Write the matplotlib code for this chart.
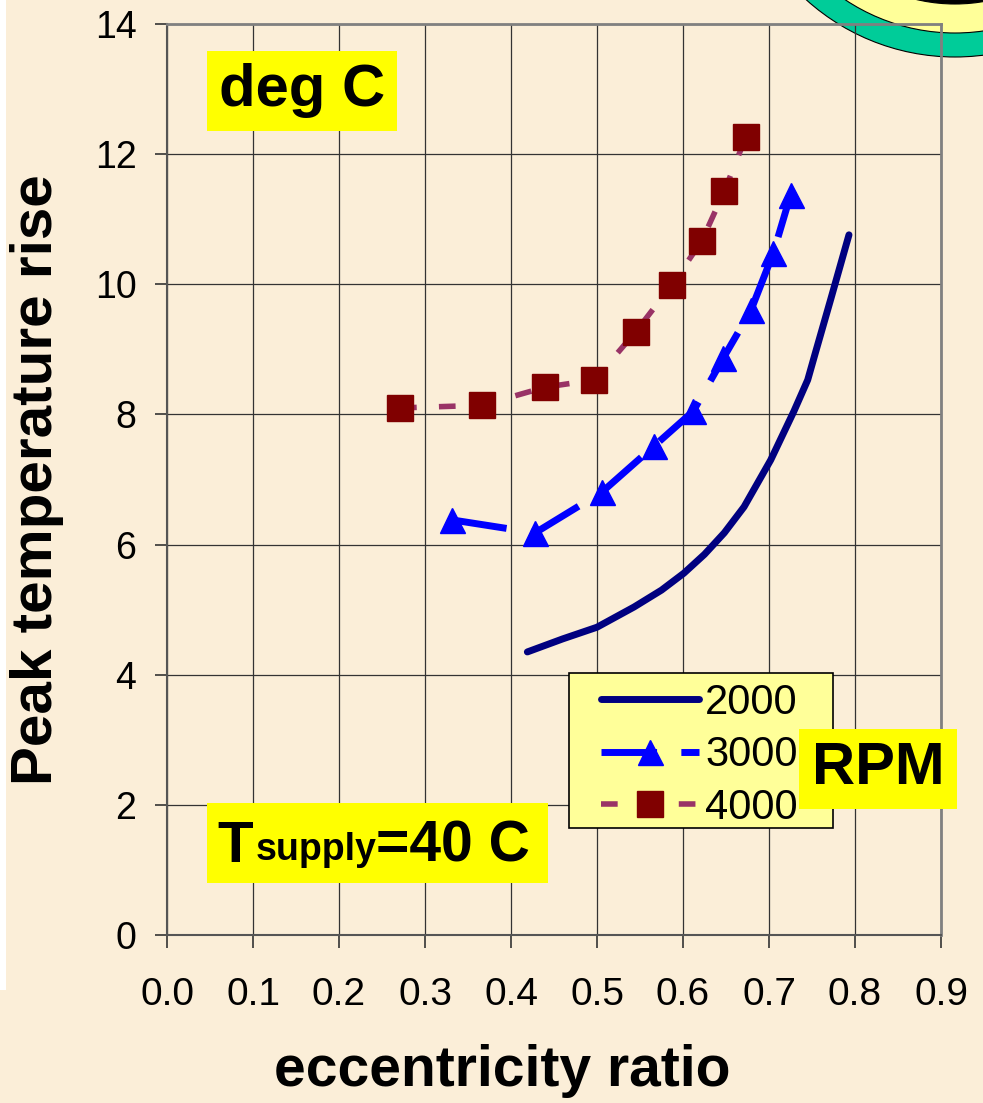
import matplotlib
matplotlib.use("Agg")
import matplotlib.pyplot as plt
from matplotlib.patches import Rectangle, Circle
from matplotlib.transforms import Affine2D

# data
ecc_2000 = [0.419, 0.46, 0.50, 0.543, 0.575, 0.601, 0.625, 0.648, 0.671,
            0.702, 0.729, 0.745, 0.754, 0.772, 0.793]
temp_2000 = [4.35, 4.55, 4.73, 5.04, 5.30, 5.56, 5.85, 6.18, 6.58,
             7.30, 8.05, 8.53, 8.95, 9.78, 10.76]

ecc_3000 = [0.331, 0.428, 0.506, 0.566, 0.612, 0.647, 0.679, 0.705, 0.725]
temp_3000 = [6.38, 6.18, 6.81, 7.51, 8.05, 8.87, 9.60, 10.48, 11.37]

ecc_4000 = [0.271, 0.366, 0.44, 0.497, 0.545, 0.587, 0.622, 0.648, 0.673]
temp_4000 = [8.10, 8.14, 8.42, 8.53, 9.27, 9.99, 10.67, 11.43, 12.26]

rpm_labels = ["2000", "3000", "4000"]
x_ticks = [0.0, 0.1, 0.2, 0.3, 0.4, 0.5, 0.6, 0.7, 0.8, 0.9]
y_ticks = [0, 2, 4, 6, 8, 10, 12, 14]

W, H = 983, 1103
BG = "#FBEED8"

plt.rcParams["font.family"] = ["Liberation Sans", "DejaVu Sans"]

fig = plt.figure(figsize=(W / 100, H / 100), dpi=100)
fig.patch.set_facecolor(BG)

# pixel coords (top-left origin) -> figure
px = Affine2D().scale(1 / W, -1 / H).translate(0, 1) + fig.transFigure

ax = fig.add_axes([167 / W, 1 - 935 / H, (941 - 167) / W, (935 - 24) / H])
ax.set_facecolor("none")

# logo in top right corner (behind the axes)
for r, col in [(222, "#00CC99"), (198, "#FFFF99"), (169, "black"), (163, "#66CCCC")]:
    fig.add_artist(Circle((955, -165), r, transform=px, facecolor=col,
                          edgecolor="black", linewidth=0.8, zorder=-1))

# white strip at left edge
fig.add_artist(Rectangle((0, 0), 6, 990, transform=px, facecolor="white",
                         edgecolor="none", zorder=-1))

l1, = ax.plot(ecc_2000, temp_2000, color="#000080", linewidth=5,
              solid_capstyle="round", solid_joinstyle="round",
              label=rpm_labels[0], zorder=3)
l2, = ax.plot(ecc_3000, temp_3000, color="#0000FF", linewidth=5,
              linestyle=(0, (8, 3.5)), marker="^", markersize=18,
              markerfacecolor="#0000FF", markeredgecolor="#0000FF",
              label=rpm_labels[1], zorder=3)
l3, = ax.plot(ecc_4000, temp_4000, color="#993366", linewidth=4,
              linestyle=(0, (3, 4)), marker="s", markersize=19,
              markerfacecolor="#800000", markeredgecolor="#800000",
              label=rpm_labels[2], zorder=3)

ax.set_xlim(0, 0.9)
ax.set_ylim(0, 14)
ax.set_xticks(x_ticks)
ax.set_yticks(y_ticks)
ax.set_xticklabels(["%.1f" % v for v in x_ticks], fontsize=28)
ax.set_yticklabels([str(v) for v in y_ticks], fontsize=27)
ax.tick_params(axis="both", direction="out", length=9, width=1.2, colors="#333333",
               labelcolor="black")
ax.tick_params(axis="x", pad=21)
ax.tick_params(axis="y", pad=13)
ax.grid(True, color="#333333", linewidth=0.9)
ax.set_axisbelow(True)

for side in ["top", "right"]:
    ax.spines[side].set_color("#808080")
    ax.spines[side].set_linewidth(2)
for side in ["left", "bottom"]:
    ax.spines[side].set_color("#555555")
    ax.spines[side].set_linewidth(1.5)

ax.set_ylabel("Peak temperature rise", fontsize=42, fontweight="bold")
ax.set_xlabel("eccentricity ratio", fontsize=41, fontweight="bold")
ax.yaxis.set_label_coords(-(167 - 64) / (941 - 167), 0.5)
ax.xaxis.set_label_coords((502 - 167) / (941 - 167), -(1044 - 935) / (935 - 24))

# legend frame drawn by hand so the padding matches the reference
ax.add_patch(Rectangle((569, 673), 833 - 569, 828 - 673, transform=px,
                       facecolor="#FFFF99", edgecolor="black", linewidth=1.2,
                       clip_on=False, zorder=4))
leg = ax.legend(handles=[l1, l2, l3], loc="upper left",
                bbox_to_anchor=(601 / W, 1 - 683 / H), bbox_transform=fig.transFigure,
                fontsize=30, handlelength=2.35, handletextpad=0.15, borderpad=0,
                labelspacing=0.3, borderaxespad=0, frameon=False)
leg.set_zorder(5)


def yellow_box(x0, y0, x1, y1):
    ax.add_patch(Rectangle((x0, y0), x1 - x0, y1 - y0, transform=px,
                           facecolor="#FFFF00", edgecolor="none",
                           clip_on=False, zorder=6))


yellow_box(207, 51, 397, 131)
ax.text(302, 91, "deg C", transform=px, fontsize=43, fontweight="bold",
        ha="center", va="center", zorder=7)

yellow_box(799, 729, 957, 809)
ax.text(878, 769, "RPM", transform=px, fontsize=43, fontweight="bold",
        ha="center", va="center", zorder=7)

yellow_box(207, 803, 548, 883)
t1 = ax.text(217, 862, "T", transform=px, fontsize=42, fontweight="bold",
             ha="left", va="baseline", zorder=7)
t2 = ax.annotate("supply", xy=(1, 0), xycoords=t1, xytext=(2, 4),
                 textcoords="offset points", fontsize=27, fontweight="bold",
                 ha="left", va="bottom", zorder=7, annotation_clip=False)
t3 = ax.annotate("=40 C", xy=(1, 0), xycoords=t2, xytext=(0, -4),
                 textcoords="offset points", fontsize=41, fontweight="bold",
                 ha="left", va="bottom", zorder=7, annotation_clip=False)

fig.savefig("out.png", dpi=100, facecolor=BG)
